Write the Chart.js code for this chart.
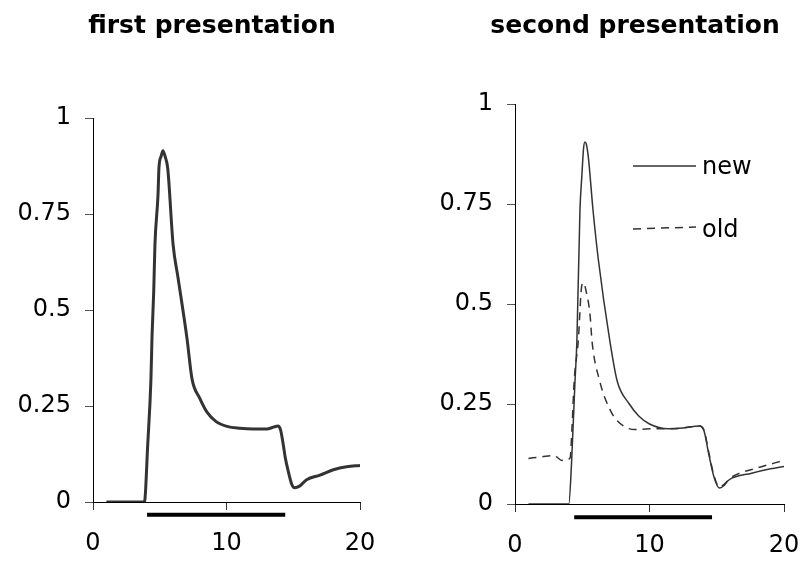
<!DOCTYPE html>
<html>
<head>
<meta charset="utf-8">
<script src="https://cdn.jsdelivr.net/npm/chart.js@4.4.0/dist/chart.umd.min.js"></script>
<style>
  html, body { margin:0; padding:0; background:#fff; }
  .panel { position:absolute; top:0; width:402px; height:561px; }
  #p1 { left:0; } #p2 { left:402px; }
</style>
</head>
<body>
<div class="panel" id="p1"><canvas id="c1" width="402" height="561"></canvas></div>
<div class="panel" id="p2"><canvas id="c2" width="402" height="561"></canvas></div>
<script>
// ---- data ----
const titles = ["first presentation", "second presentation"];
const xTicks = [0, 10, 20];
const yTicks = [0, 0.25, 0.5, 0.75, 1];

const firstX = [1, 3, 3.85, 4.1, 4.34, 4.42, 4.55, 4.64, 4.87, 4.94, 5.1, 5.24, 5.4, 5.6, 6.0, 6.37, 7.04, 7.42, 8.0, 8.54, 9.2, 10.04, 11, 12, 13, 13.6, 13.85, 14.05, 14.25, 14.4, 14.6, 14.9, 15.1, 15.5, 16, 17, 18, 19, 20];
const firstY = [0, 0, 0, 0.15, 0.32, 0.43, 0.55, 0.67, 0.8, 0.87, 0.9, 0.915, 0.9, 0.868, 0.67, 0.584, 0.426, 0.32, 0.27, 0.234, 0.21, 0.197, 0.192, 0.19, 0.19, 0.196, 0.198, 0.188, 0.15, 0.116, 0.084, 0.045, 0.037, 0.042, 0.058, 0.07, 0.084, 0.092, 0.095];

const newX = [1, 3, 4.0, 4.2, 4.46, 4.6, 4.83, 4.97, 5.1, 5.2, 5.3, 5.45, 5.8, 6.2, 7.06, 7.6, 8.5, 9.2, 10, 11.4, 12.5, 13.7, 14.05, 14.4, 14.8, 15.2, 15.5, 15.9, 17.6, 19, 20];
const newY = [0, 0, 0, 0.1, 0.307, 0.406, 0.735, 0.82, 0.89, 0.905, 0.9, 0.868, 0.735, 0.61, 0.406, 0.307, 0.25, 0.22, 0.2, 0.188, 0.19, 0.195, 0.183, 0.126, 0.067, 0.04, 0.045, 0.06, 0.077, 0.088, 0.094];

const oldX = [1, 2, 2.9, 3.5, 3.8, 4.1, 4.25, 4.4, 4.7, 4.97, 5.1, 5.3, 5.58, 5.73, 6.3, 7.0, 7.6, 8.9, 10, 11.4, 12.5, 13.7, 14.05, 14.4, 14.8, 15.2, 15.5, 16.1, 18, 20];
const oldY = [0.114, 0.118, 0.121, 0.109, 0.11, 0.116, 0.2, 0.307, 0.406, 0.547, 0.553, 0.53, 0.473, 0.406, 0.307, 0.24, 0.208, 0.186, 0.188, 0.188, 0.19, 0.195, 0.185, 0.13, 0.07, 0.042, 0.048, 0.067, 0.09, 0.109];

const legendLabels = ["new", "old"];
const stimulus1 = [4.05, 14.4];
const stimulus2 = [4.4, 14.65];
const stimulusLevel = -0.033;

// ---- helpers ----
const zip = (xs, ys) => xs.map((x, i) => ({x: x, y: ys[i]}));
const FONT = "'DejaVu Sans', Verdana, sans-serif";

function makeScales(yWidth, xHeight) {
  return {
    x: {
      type: 'linear', min: 0, max: 20,
      afterBuildTicks: s => { s.ticks = xTicks.map(v => ({value: v})); },
      afterFit: s => { s.height = xHeight; s.paddingLeft = 0; s.paddingRight = 15; },
      ticks: { color: '#000', font: {family: FONT, size: 24}, padding: 19, maxRotation: 0,
               callback: v => String(v) },
      grid: { drawOnChartArea: false, drawTicks: true, tickLength: 8, color: '#333', lineWidth: 1 },
      border: { display: true, color: '#000', width: 1 }
    },
    y: {
      type: 'linear', min: 0, max: 1,
      afterBuildTicks: s => { s.ticks = yTicks.map(v => ({value: v})); },
      afterFit: s => { s.width = yWidth; },
      ticks: { color: '#000', font: {family: FONT, size: 24}, padding: 14,
               callback: v => String(v) },
      grid: { drawOnChartArea: false, drawTicks: true, tickLength: 8, color: '#555', lineWidth: 1 },
      border: { display: true, color: '#000', width: 1 }
    }
  };
}

function titlePlugin(text, cx, baseY) {
  return {
    id: 'ttl',
    afterDraw(chart) {
      const ctx = chart.ctx;
      ctx.save();
      ctx.font = "bold 25px " + FONT;
      ctx.fillStyle = '#000';
      ctx.textAlign = 'center';
      ctx.textBaseline = 'alphabetic';
      ctx.fillText(text, cx, baseY);
      ctx.restore();
    }
  };
}

const legendPlugin = {
  id: 'lgd',
  afterDraw(chart) {
    const ctx = chart.ctx;
    const rows = [{y: 166, dash: []}, {y: 229, dash: [8, 6]}];
    ctx.save();
    rows.forEach((r, i) => {
      ctx.beginPath();
      ctx.setLineDash(r.dash);
      ctx.strokeStyle = '#333';
      ctx.lineWidth = 1.5;
      ctx.moveTo(231, r.y);
      ctx.lineTo(294, r.y - (i === 1 ? 2 : 0));
      ctx.stroke();
      ctx.setLineDash([]);
      ctx.font = "24px " + FONT;
      ctx.fillStyle = '#000';
      ctx.textAlign = 'left';
      ctx.textBaseline = 'middle';
      ctx.fillText(legendLabels[i], 300, r.y + 2);
    });
    ctx.restore();
  }
};

const common = {
  responsive: false,
  animation: false,
  plugins: { legend: { display: false }, tooltip: { enabled: false } },
  elements: { point: { radius: 0 } }
};

new Chart(document.getElementById('c1'), {
  type: 'line',
  data: {
    datasets: [
      { data: zip(firstX, firstY), borderColor: '#333', borderWidth: 3, cubicInterpolationMode: 'monotone', fill: false },
      { data: zip(stimulus1, [stimulusLevel, stimulusLevel]), borderColor: '#000', borderWidth: 4, clip: false, fill: false }
    ]
  },
  options: Object.assign({}, common, {
    layout: { padding: { top: 118, right: 42, left: 0, bottom: 0 } },
    scales: makeScales(93, 59)
  }),
  plugins: [titlePlugin(titles[0], 212, 33)]
});

new Chart(document.getElementById('c2'), {
  type: 'line',
  data: {
    datasets: [
      { data: zip(newX, newY), borderColor: '#333', borderWidth: 1.5, cubicInterpolationMode: 'monotone', fill: false },
      { data: zip(oldX, oldY), borderColor: '#333', borderWidth: 1.5, borderDash: [8, 6], cubicInterpolationMode: 'monotone', fill: false },
      { data: zip(stimulus2, [stimulusLevel, stimulusLevel]), borderColor: '#000', borderWidth: 4, clip: false, fill: false }
    ]
  },
  options: Object.assign({}, common, {
    layout: { padding: { top: 104, right: 20, left: 0, bottom: 0 } },
    scales: makeScales(113, 57)
  }),
  plugins: [titlePlugin(titles[1], 233, 33), legendPlugin]
});
</script>
</body>
</html>
